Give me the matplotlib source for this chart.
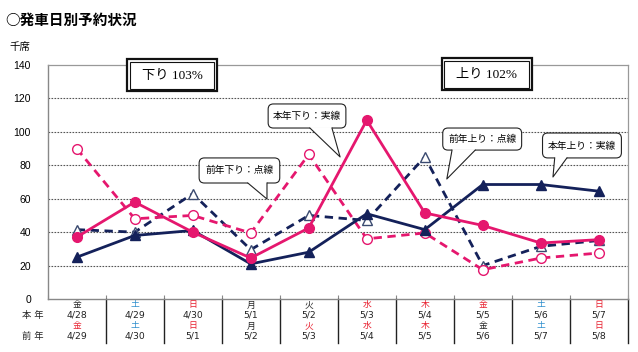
import matplotlib
matplotlib.use("Agg")
import matplotlib.pyplot as plt
from matplotlib.patches import FancyBboxPatch, Rectangle, Polygon
from matplotlib.lines import Line2D

plt.rcParams['font.family'] = ['DejaVu Sans', 'Noto Sans CJK JP']

# ---- data ----
dates_this = ['4/28', '4/29', '4/30', '5/1', '5/2', '5/3', '5/4', '5/5', '5/6', '5/7']
dow_this = ['金', '土', '日', '月', '火', '水', '木', '金', '土', '日']
kind_this = ['wd', 'sat', 'hol', 'wd', 'wd', 'hol', 'hol', 'hol', 'sat', 'hol']
dates_prev = ['4/29', '4/30', '5/1', '5/2', '5/3', '5/4', '5/5', '5/6', '5/7', '5/8']
dow_prev = ['金', '土', '日', '月', '火', '水', '木', '金', '土', '日']
kind_prev = ['hol', 'sat', 'hol', 'wd', 'hol', 'hol', 'hol', 'wd', 'sat', 'hol']

down_this = [37, 58, 40, 24.5, 42.5, 107, 51.5, 44, 33.5, 35.5]
down_prev = [90, 48, 50, 39.5, 86.5, 36, 39.5, 17.5, 24.5, 27.5]
up_this = [25, 38, 41, 21, 28, 51, 41.5, 68.5, 68.5, 64.5]
up_prev = [41.5, 40, 63, 29.5, 50, 47, 85, 20, 31.5, 35]

yticks = [0, 20, 40, 60, 80, 100, 120, 140]

PINK = '#e5176e'
NAVY = '#14215a'
RED = '#e8202f'
BLUE = '#2a8ccc'
kind_color = {'wd': '#222222', 'sat': BLUE, 'hol': RED}

fig = plt.figure(figsize=(6.38, 3.52), dpi=100)
ax = fig.add_axes([0.0748, 0.1506, 0.9092, 0.6647])
x = list(range(len(dates_this)))

ax.set_xlim(-0.5, 9.5)
ax.set_ylim(0, 140)

# grid
for v in yticks[1:-1]:
    ax.axhline(v, color='#555555', lw=0.8, ls=(0, (1.5, 1.2)), zorder=1)

for s in ['top', 'right']:
    ax.spines[s].set_color('#999999')
    ax.spines[s].set_linewidth(0.9)
for s in ['left', 'bottom']:
    ax.spines[s].set_color('#888888')
    ax.spines[s].set_linewidth(1.0)

ax.set_yticks(yticks)
ax.set_yticklabels([str(v) for v in yticks], family=['Liberation Sans'], fontsize=7.5)
ax.tick_params(axis='y', length=0, pad=12)
ax.set_xticks([i + 0.5 for i in range(-1, 10)])
ax.set_xticklabels([])
ax.tick_params(axis='x', direction='in', length=3, color='#888888')

# series
ax.plot(x, up_prev, color=NAVY, lw=2, ls=(0, (3, 2)), marker='^', ms=7,
        mfc='white', mec='#3a4a70', mew=1, zorder=3)
ax.plot(x, down_prev, color=PINK, lw=2, ls=(0, (3, 2)), marker='o', ms=7,
        mfc='white', mec=PINK, mew=1, zorder=3)
ax.plot(x, up_this, color=NAVY, lw=2, marker='^', ms=7, mfc=NAVY, mec=NAVY, zorder=4)
ax.plot(x, down_this, color=PINK, lw=2, marker='o', ms=7, mfc=PINK, mec=PINK, zorder=5)

# callouts
XU = 58.03
YU = 1.6714


def callout(x0, x1, y0, y1, bx0, bx1, tip, text):
    box = FancyBboxPatch((x0, y0), x1 - x0, y1 - y0,
                         boxstyle='round,pad=0,rounding_size=0.09',
                         mutation_aspect=XU / YU, fc='white', ec='#222222',
                         lw=0.8, zorder=6)
    ax.add_patch(box)
    ax.add_patch(Polygon([(bx0, y0 + 0.6), (bx0, y0), tip, (bx1, y0), (bx1, y0 + 0.6)],
                         closed=True, fc='white', ec='none', zorder=7))
    ax.add_line(Line2D([bx0, tip[0], bx1], [y0, tip[1], y0], color='#222222',
                       lw=0.8, zorder=7))
    ax.text((x0 + x1) / 2, (y0 + y1) / 2, text, ha='center', va='center',
            fontsize=7, family=['Noto Sans CJK JP'], zorder=8)


callout(3.30, 4.64, 102.3, 116.7, 4.02, 4.40, (4.54, 85), '本年下り：実線')
callout(2.11, 3.50, 69.4, 84.4, 2.95, 3.28, (3.28, 59.8), '前年下り：点線')
callout(6.31, 7.67, 89.1, 102.3, 6.47, 6.87, (6.38, 71.8), '前年上り：点線')
callout(8.03, 9.39, 84.4, 99.3, 8.24, 8.45, (8.21, 73), '本年上り：実線')


def dbl_box(x0, x1, y0, y1, text):
    ax.add_patch(Rectangle((x0, y0), x1 - x0, y1 - y0, fc='white', ec='#111111',
                           lw=1.6, zorder=6, clip_on=False))
    ax.add_patch(Rectangle((x0 + 0.045, y0 + 1.5), x1 - x0 - 0.09, y1 - y0 - 3.0,
                           fc='white', ec='#111111', lw=0.8, zorder=6, clip_on=False))
    ax.text((x0 + x1) / 2, (y0 + y1) / 2 - 0.3, text, ha='center', va='center',
            fontsize=9.5, family=['Liberation Serif', 'Noto Sans CJK JP'], zorder=8)


dbl_box(0.87, 2.42, 124.4, 143.6, '下り 103%')
dbl_box(6.29, 7.84, 125.0, 144.2, '上り 102%')

# table below the axis
tr = ax.get_xaxis_transform()
rows = [-0.0256, -0.0705, -0.1154, -0.1603]
fs = 6.3
for i in x:
    ax.text(i, rows[0], dow_this[i], transform=tr, ha='center', va='center',
            fontsize=fs, color=kind_color[kind_this[i]])
    ax.text(i, rows[1], dates_this[i], transform=tr, ha='center', va='center',
            fontsize=fs + 0.4, color='#222222')
    ax.text(i, rows[2], dow_prev[i], transform=tr, ha='center', va='center',
            fontsize=fs, color=kind_color[kind_prev[i]])
    ax.text(i, rows[3], dates_prev[i], transform=tr, ha='center', va='center',
            fontsize=fs + 0.4, color='#222222')
for i in range(10):
    ax.add_line(Line2D([i + 0.5, i + 0.5], [0, -0.19], transform=tr, color='#222222',
                       lw=1.0, clip_on=False))
ax.text(-0.025, rows[1], '本 年', transform=ax.transAxes, ha='center', va='center',
        fontsize=fs + 0.4, color='#222222')
ax.text(-0.025, rows[3], '前 年', transform=ax.transAxes, ha='center', va='center',
        fontsize=fs + 0.4, color='#222222')

# titles
fig.text(0.008, 0.943, '○発車日別予約状況', ha='left', va='center', fontsize=10.5,
         fontweight='bold', family=['Noto Sans CJK JP'])
fig.text(0.031, 0.866, '千席', ha='center', va='center', fontsize=7.5,
         family=['Noto Sans CJK JP'])

fig.savefig('out.png', dpi=100)
